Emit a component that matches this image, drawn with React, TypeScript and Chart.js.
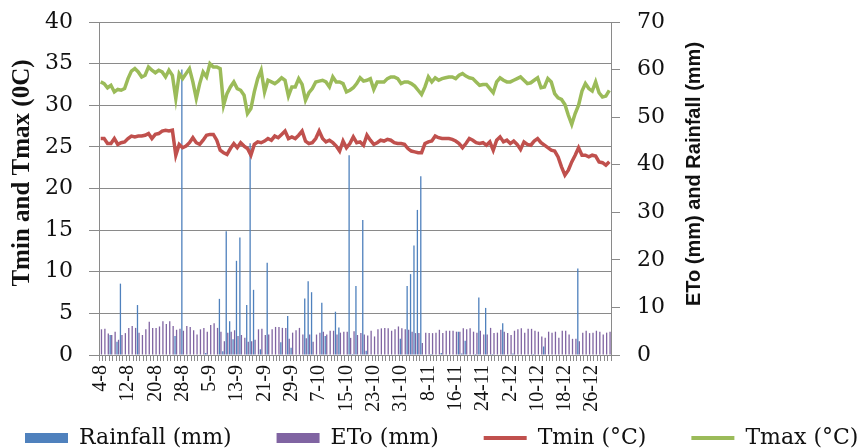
import React, { useEffect, useRef } from "react";
import { Chart, registerables } from "chart.js";

Chart.register(...registerables);

// Calendar span of the record: [month, first day, last day]
const monthSpans: [number, number, number][] = [
  [8, 4, 31],
  [9, 1, 30],
  [10, 1, 31],
  [11, 1, 30],
  [12, 1, 31],
];
const categories: string[] = [];
for (const [m, s, e] of monthSpans) {
  for (let d = s; d <= e; d++) categories.push(`${d}-${m}`);
}

const tickLabels = [
  "4-8", "12-8", "20-8", "28-8", "5-9", "13-9", "21-9", "29-9", "7-10", "15-10",
  "23-10", "31-10", "8-11", "16-11", "24-11", "2-12", "10-12", "18-12", "26-12",
];

const rainfall = [
  0, 0, 0, 4.2, 0, 2.8, 15, 0, 0, 0,
  0, 10.5, 0, 0, 0, 0, 0, 0, 0, 0,
  0, 0, 4, 0, 60, 0, 0, 0, 0, 0,
  0, 0.4, 0, 0, 0, 11.8, 0.8, 26, 7.1, 3.3,
  19.8, 24.7, 0, 10.5, 44.5, 13.7, 0, 1.2, 0, 19.4,
  0, 0, 0, 2.7, 0, 8.2, 1.5, 0, 0, 0,
  11.9, 15.5, 13.2, 0, 0, 11, 4, 0, 0, 9.1,
  5.8, 0, 0, 42, 0.2, 14.5, 0, 28.4, 0.9, 0,
  0, 0, 0, 0, 0, 0, 0, 0, 3.4, 0,
  14.5, 17, 23, 30.5, 37.6, 0, 0, 0.2, 0, 0,
  0.4, 0, 0, 0, 0, 4.9, 0.3, 3, 0, 0,
  0.2, 12.1, 0, 9.9, 0, 0.2, 0, 0, 6.7, 0,
  0, 0.3, 0, 0, 0, 0, 0, 0.2, 0, 0,
  1.8, 0, 0, 0, 0, 0, 0, 0, 0, 0,
  18.2, 0, 0, 0, 0, 0, 0, 0, 0, 0,
];

const eto = [
  5.4, 5.5, 4.5, 4.2, 4.9, 3.2, 4.2, 4.6, 5.7, 6.1,
  5.7, 4.7, 4.2, 5.4, 7.0, 5.7, 5.7, 6.0, 7.1, 6.5,
  7.1, 6.1, 5.3, 5.5, 5.1, 6.1, 5.9, 5.2, 4.3, 5.4,
  5.7, 4.9, 6.3, 6.7, 5.7, 4.9, 2.9, 4.7, 4.9, 5.2,
  4.0, 4.2, 3.6, 2.8, 2.9, 3.2, 5.4, 5.5, 4.2, 4.3,
  5.4, 5.9, 5.9, 5.7, 5.7, 3.4, 4.7, 5.2, 5.7, 4.3,
  3.5, 4.3, 2.8, 4.3, 4.7, 4.9, 4.3, 5.1, 5.1, 4.3,
  4.7, 4.9, 4.9, 3.6, 5.0, 4.2, 4.6, 4.3, 4.1, 5.1,
  3.9, 5.4, 5.6, 5.7, 5.6, 5.1, 5.4, 6.0, 5.6, 5.4,
  5.3, 4.9, 4.6, 4.6, 2.5, 4.7, 4.6, 4.6, 4.7, 5.3,
  4.6, 5.1, 5.1, 5.1, 4.9, 4.9, 5.6, 5.4, 5.6, 4.9,
  4.7, 5.1, 4.3, 4.3, 5.7, 4.6, 4.7, 5.3, 4.9, 4.6,
  4.2, 5.1, 5.4, 5.6, 4.7, 5.5, 5.5, 5.1, 4.9, 3.9,
  3.6, 4.9, 4.7, 4.9, 3.6, 5.1, 5.1, 4.3, 3.4, 3.4,
  2.9, 4.7, 5.1, 4.6, 4.7, 5.1, 4.9, 4.3, 4.7, 4.9,
];

const tmin = [
  26.0, 26.0, 25.4, 25.4, 26.0, 25.3, 25.5, 25.6, 26.0, 26.3,
  26.2, 26.3, 26.3, 26.4, 26.6, 26.0, 26.5, 26.6, 26.9, 27.0,
  26.9, 27.0, 24.0, 25.3, 24.9, 25.1, 25.5, 26.1, 25.5, 25.3,
  25.8, 26.4, 26.5, 26.5, 25.8, 24.6, 24.3, 24.1, 24.8, 25.4,
  24.9, 25.5, 25.1, 24.8, 24.0, 25.3, 25.6, 25.5, 25.7, 26.0,
  25.8, 26.3, 26.1, 26.5, 26.9, 26.0, 26.2, 26.0, 26.4, 26.9,
  25.7, 25.4, 25.5, 26.0, 26.9, 26.0, 25.6, 25.8, 25.5, 25.1,
  24.5, 25.7, 24.9, 25.4, 26.2, 25.5, 25.6, 25.2, 26.4, 25.8,
  25.3, 25.5, 25.8, 25.7, 25.9, 25.8, 25.5, 25.4, 25.4, 25.3,
  24.8, 24.5, 24.4, 24.3, 24.3, 25.4, 25.6, 25.7, 26.3, 26.1,
  26.0, 26.0, 26.0, 25.9, 25.7, 25.4, 24.9, 25.4, 26.0, 25.8,
  25.5, 25.4, 25.5, 25.2, 25.6, 24.6, 25.8, 26.2, 25.6, 25.8,
  25.4, 25.7, 25.3, 24.7, 25.6, 25.3, 25.2, 25.7, 26.0, 25.5,
  25.2, 24.9, 24.6, 24.5, 23.8, 22.6, 21.6, 22.2, 23.2, 24.0,
  24.9, 24.0, 24.0, 23.8, 24.0, 23.9, 23.2, 23.1, 22.8, 23.2,
];

const tmax = [
  32.8, 32.6, 32.1, 32.4, 31.6, 31.9, 31.8, 32.0, 33.2, 34.1,
  34.4, 34.0, 33.4, 33.6, 34.6, 34.2, 33.9, 34.2, 34.0, 33.4,
  34.2, 33.6, 30.8, 33.8, 33.2, 33.8, 34.4, 32.8, 30.8, 32.6,
  34.0, 33.4, 35.0, 34.6, 34.6, 34.4, 30.0, 31.4, 32.2, 32.8,
  32.0, 31.8, 31.2, 29.0, 29.6, 31.6, 33.2, 34.2, 31.6, 33.0,
  32.8, 32.6, 32.9, 33.3, 33.0, 31.1, 32.2, 32.2, 33.2, 32.5,
  30.6, 31.5, 32.0, 32.8, 32.9, 33.0, 32.8, 32.2, 33.4, 32.8,
  32.8, 32.6, 31.6, 31.8, 32.1, 32.6, 33.3, 32.9, 33.0, 33.2,
  31.9, 32.8, 32.8, 32.8, 33.2, 33.4, 33.4, 33.2, 32.6, 32.8,
  32.8, 32.6, 32.3, 31.8, 31.3, 32.2, 33.4, 32.8, 33.3, 33.0,
  33.2, 33.3, 33.4, 33.4, 33.2, 33.6, 33.8, 33.5, 33.3, 33.2,
  32.8, 32.4, 32.5, 32.5, 32.0, 31.5, 32.8, 33.3, 33.0, 32.8,
  32.8, 33.0, 33.2, 33.4, 33.0, 32.6, 32.7, 33.0, 33.3, 32.1,
  32.2, 33.2, 32.8, 31.4, 30.9, 30.7, 30.1, 28.8, 27.7, 29.0,
  30.0, 31.7, 32.6, 32.0, 31.7, 32.8, 31.5, 31.0, 31.1, 31.8,
];

const seriesNames = ["Rainfall (mm)", "ETo (mm)", "Tmin (°C)", "Tmax (°C)"];
const seriesColors = ["#4F81BD", "#8064A2", "#C0504D", "#9BBB59"];
// extra trailing spaces after each legend entry (spacing between entries)
const legendGaps = [5, 5, 5, 0];
const leftTitle = "Tmin and Tmax (0C)";
const rightTitle = "ETo (mm) and Rainfall (mm)";

const GRID = "#8a8a8a";
const TEXT = "#111111";

const axisTitlePlugin = {
  id: "axisTitlesRotated",
  afterDraw(chart: any) {
    const ctx = chart.ctx;
    const area = chart.chartArea;
    ctx.save();
    ctx.fillStyle = TEXT;
    ctx.textAlign = "center";
    ctx.textBaseline = "middle";
    ctx.translate(area.left - 76, area.top + 151);
    ctx.rotate(-Math.PI / 2);
    ctx.font = 'bold 25px "Liberation Serif"';
    ctx.fillText(leftTitle, 0, 0);
    ctx.restore();

    ctx.save();
    ctx.fillStyle = TEXT;
    ctx.textAlign = "center";
    ctx.textBaseline = "middle";
    ctx.translate(area.right + 83, area.top + 152);
    ctx.rotate(-Math.PI / 2);
    ctx.font = 'bold 20px "Liberation Sans"';
    ctx.fillText(rightTitle, 0, 0);
    ctx.restore();
  },
};

export default function App() {
  const ref = useRef<HTMLCanvasElement | null>(null);

  useEffect(() => {
    document.body.style.margin = "0";
    const canvas = ref.current;
    if (!canvas) return;
    const chart = new Chart(canvas, {
      type: "bar",
      data: {
        labels: categories,
        datasets: [
          {
            type: "bar",
            label: seriesNames[0],
            data: rainfall,
            backgroundColor: seriesColors[0],
            yAxisID: "y1",
            order: 2,
            categoryPercentage: 0.9,
            barPercentage: 0.85,
          },
          {
            type: "bar",
            label: seriesNames[1],
            data: eto,
            backgroundColor: seriesColors[1],
            yAxisID: "y1",
            order: 2,
            categoryPercentage: 0.9,
            barPercentage: 0.85,
          },
          {
            type: "line",
            label: seriesNames[2],
            data: tmin,
            borderColor: seriesColors[2],
            backgroundColor: seriesColors[2],
            borderWidth: 3.5,
            pointRadius: 0,
            tension: 0,
            yAxisID: "y",
            order: 1,
          },
          {
            type: "line",
            label: seriesNames[3],
            data: tmax,
            borderColor: seriesColors[3],
            backgroundColor: seriesColors[3],
            borderWidth: 3.5,
            pointRadius: 0,
            tension: 0,
            yAxisID: "y",
            order: 1,
          },
        ],
      } as any,
      options: {
        responsive: false,
        animation: false,
        layout: { padding: { top: 22, bottom: -11, left: 15, right: -40 } },
        plugins: {
          tooltip: { enabled: false },
          legend: {
            position: "bottom",
            align: "start",
            labels: {
              usePointStyle: true,
              pointStyleWidth: 43,
              boxHeight: 10,
              padding: 10,
              color: TEXT,
              font: { family: "DejaVu Serif", size: 22 },
              generateLabels(ch: any) {
                const items = (Chart.defaults as any).plugins.legend.labels.generateLabels(ch);
                items.sort((a: any, b: any) => a.datasetIndex - b.datasetIndex);
                return items.map((it: any, k: number) => ({
                  ...it,
                  text: it.text + " ".repeat(legendGaps[k] || 0),
                  pointStyle: k < 2 ? "rect" : "line",
                  lineWidth: k < 2 ? 0 : 4,
                }));
              },
            },
          },
        },
        scales: {
          x: {
            type: "category",
            offset: true,
            grid: {
              display: true,
              drawOnChartArea: false,
              drawTicks: true,
              tickLength: 6,
              color: GRID,
              offset: true,
            },
            border: { display: true, color: GRID, width: 1 },
            ticks: {
              autoSkip: false,
              minRotation: 90,
              maxRotation: 90,
              padding: 4,
              color: TEXT,
              font: { family: "Liberation Serif", size: 20 },
              callback: (_v: any, i: number) =>
                tickLabels.includes(categories[i]) && i % 8 === 0 ? categories[i] : "",
            },
            afterFit: (s: any) => {
              s.height = 62;
            },
          },
          y: {
            position: "left",
            min: 0,
            max: 40,
            ticks: {
              stepSize: 5,
              padding: 16,
              color: TEXT,
              font: { family: "DejaVu Serif", size: 22, lineHeight: 0.4 },
            },
            grid: { color: GRID, tickLength: 10, drawTicks: true, lineWidth: 1 },
            border: { display: true, color: GRID, width: 1 },
            afterFit: (s: any) => {
              s.width = 84;
            },
          },
          y1: {
            position: "right",
            min: 0,
            max: 70,
            ticks: {
              stepSize: 10,
              padding: 17,
              color: TEXT,
              font: { family: "DejaVu Serif", size: 22, lineHeight: 0.4 },
            },
            grid: { drawOnChartArea: false, color: GRID, tickLength: 9, drawTicks: true },
            border: { display: true, color: GRID, width: 1 },
            afterFit: (s: any) => {
              s.width = 293;
            },
          },
        },
      } as any,
      plugins: [axisTitlePlugin],
    });
    return () => chart.destroy();
  }, []);

  return (
    <div style={{ position: "fixed", left: 0, top: 0, width: 864, height: 448, background: "#fff" }}>
      <canvas ref={ref} width={864} height={448} style={{ display: "block" }} />
    </div>
  );
}
